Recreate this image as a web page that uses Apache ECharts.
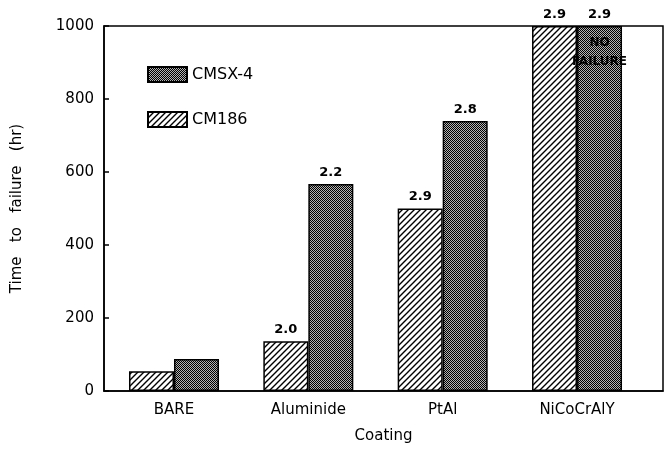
<!DOCTYPE html>
<html>
<head>
<meta charset="utf-8">
<script src="https://cdn.jsdelivr.net/npm/echarts@6/dist/echarts.min.js"></script>
<style>html,body{margin:0;padding:0;background:#fff}#c{width:664px;height:449px}</style>
</head>
<body>
<div id="c"></div>
<script>
var categories = ['BARE', 'Aluminide', 'PtAl', 'NiCoCrAlY'];
var cm186 = [54, 136, 500, 1000];
var cmsx4 = [88, 567, 740, 1000];
var cm186Labels = ['', '2.0', '2.9', '2.9'];
var cmsx4Labels = ['', '2.2', '2.8', '2.9'];
var yTicks = [0, 200, 400, 600, 800, 1000];

function hatch() {
  var c = document.createElement('canvas');
  c.width = 6; c.height = 6;
  var g = c.getContext('2d');
  g.fillStyle = '#fff'; g.fillRect(0, 0, 6, 6);
  g.strokeStyle = '#000'; g.lineWidth = 1.4;
  g.beginPath();
  g.moveTo(-1, 7); g.lineTo(7, -1);
  g.moveTo(-4, 4); g.lineTo(4, -4);
  g.moveTo(2, 10); g.lineTo(10, 2);
  g.stroke();
  return c;
}
function stipple() {
  var c = document.createElement('canvas');
  c.width = 2; c.height = 2;
  var g = c.getContext('2d');
  g.fillStyle = '#b4b4b4'; g.fillRect(0, 0, 2, 2);
  g.fillStyle = '#000';
  g.fillRect(0, 0, 1, 1); g.fillRect(1, 1, 1, 1);
  return c;
}
var FONT = 'DejaVu Sans';
function pairs(arr) { return arr.map(function (v, i) { return [i, v]; }); }

var chart = echarts.init(document.getElementById('c'));
chart.setOption({
  animation: false,
  backgroundColor: '#fff',
  grid: { left: 104, right: 1, top: 26, bottom: 57.5, show: true, borderColor: '#000', borderWidth: 1.5, backgroundColor: 'transparent' },
  legend: {
    data: ['CMSX-4', 'CM186'],
    orient: 'vertical', left: 142, top: 61, itemWidth: 39, itemHeight: 15, itemGap: 28,
    icon: 'rect',
    textStyle: { fontFamily: FONT, fontSize: 16, color: '#000' }
  },
  xAxis: {
    type: 'value', min: -0.521, max: 3.64,
    axisLine: { show: true, onZero: false, lineStyle: { color: '#000', width: 1.5 } },
    axisTick: { show: false },
    splitLine: { show: false },
    axisLabel: {
      customValues: [0, 1, 2, 3],
      formatter: function (v) { return categories[Math.round(v)] || ''; },
      fontFamily: FONT, fontSize: 15, color: '#000', margin: 12
    },
    name: 'Coating', nameLocation: 'middle', nameGap: 38,
    nameTextStyle: { fontFamily: FONT, fontSize: 15, color: '#000' }
  },
  yAxis: {
    type: 'value', min: yTicks[0], max: yTicks[yTicks.length - 1], interval: 200,
    axisLine: { show: true, onZero: false, lineStyle: { color: '#000', width: 1.5 } },
    axisTick: { show: true, inside: true, length: 5, lineStyle: { color: '#000', width: 1.5 } },
    splitLine: { show: false },
    axisLabel: { fontFamily: FONT, fontSize: 15, color: '#000', margin: 10, formatter: function (v) { return String(v); } },
    name: 'Time   to   failure   (hr)', nameLocation: 'middle', nameGap: 79,
    nameTextStyle: { fontFamily: FONT, fontSize: 15, color: '#000' }
  },
  series: [
    {
      name: 'CM186', type: 'bar', barWidth: 45, barGap: '0%',
      data: pairs(cm186),
      itemStyle: { color: { image: hatch(), repeat: 'repeat' }, borderColor: '#000', borderWidth: 1.5 },
      label: {
        show: true, position: 'top', distance: 5,
        formatter: function (p) { return cm186Labels[p.dataIndex]; },
        fontFamily: FONT, fontWeight: 'bold', fontSize: 13, color: '#000'
      }
    },
    {
      name: 'CMSX-4', type: 'bar', barWidth: 45, barGap: '0%',
      data: pairs(cmsx4),
      itemStyle: { color: { image: stipple(), repeat: 'repeat' }, borderColor: '#000', borderWidth: 1.5 },
      label: {
        show: true, position: 'top', distance: 5,
        formatter: function (p) { return cmsx4Labels[p.dataIndex]; },
        fontFamily: FONT, fontWeight: 'bold', fontSize: 13, color: '#000'
      },
      markPoint: {
        symbol: 'rect', symbolSize: 1, itemStyle: { color: 'rgba(0,0,0,0)' },
        label: { show: true, position: 'inside', formatter: 'NO\nFAILURE', fontFamily: FONT, fontWeight: 'bold', fontSize: 12, lineHeight: 19, color: '#000' },
        data: [{ coord: [3, 927] }]
      }
    }
  ]
});
</script>
</body>
</html>
